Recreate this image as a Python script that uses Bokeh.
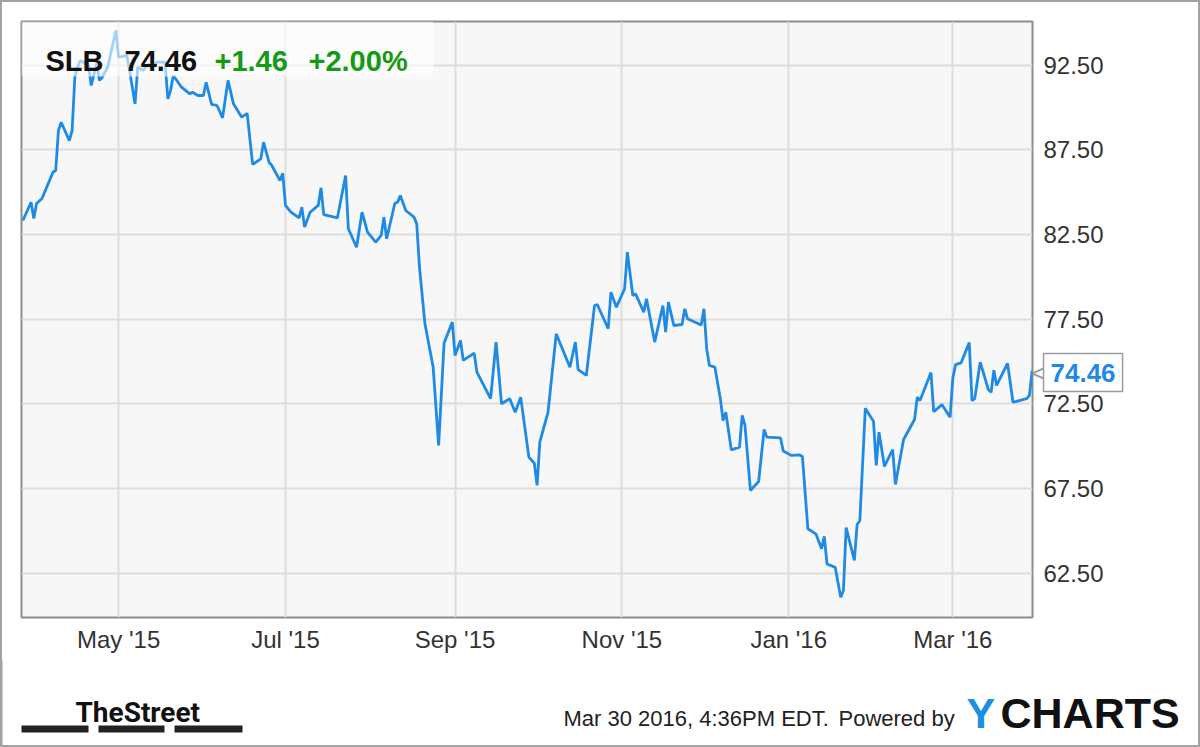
import pandas as pd
from bokeh.plotting import figure
from bokeh.layouts import column
from bokeh.models import (Range1d, FixedTicker, PrintfTickFormatter, DatetimeTickFormatter,
                          Label, BoxAnnotation)
from bokeh.embed import file_html
from bokeh.resources import INLINE

# ---------------- data ----------------
dates = [
    "2015-03-27", "2015-03-30", "2015-03-31", "2015-04-01", "2015-04-03", "2015-04-07", "2015-04-08",
    "2015-04-09", "2015-04-10", "2015-04-13", "2015-04-14", "2015-04-15", "2015-04-16", "2015-04-17",
    "2015-04-20", "2015-04-21", "2015-04-23", "2015-04-24", "2015-04-25", "2015-04-27", "2015-04-30",
    "2015-05-01", "2015-05-04", "2015-05-05", "2015-05-07", "2015-05-08", "2015-05-10", "2015-05-12",
    "2015-05-13", "2015-05-15", "2015-05-18", "2015-05-19", "2015-05-20", "2015-05-21", "2015-05-24",
    "2015-05-27", "2015-05-28", "2015-05-30", "2015-06-01", "2015-06-02", "2015-06-04", "2015-06-06",
    "2015-06-08", "2015-06-10", "2015-06-12", "2015-06-15", "2015-06-17", "2015-06-19", "2015-06-22",
    "2015-06-23", "2015-06-25", "2015-06-26", "2015-06-29", "2015-06-30", "2015-07-01", "2015-07-03",
    "2015-07-06", "2015-07-07", "2015-07-08", "2015-07-10", "2015-07-13", "2015-07-14", "2015-07-15",
    "2015-07-20", "2015-07-23", "2015-07-24", "2015-07-27", "2015-07-29", "2015-07-31", "2015-08-03",
    "2015-08-05", "2015-08-06", "2015-08-07", "2015-08-10", "2015-08-11", "2015-08-12", "2015-08-14",
    "2015-08-17", "2015-08-18", "2015-08-19", "2015-08-21", "2015-08-24", "2015-08-26", "2015-08-28",
    "2015-08-31", "2015-09-01", "2015-09-03", "2015-09-04", "2015-09-08", "2015-09-09", "2015-09-14",
    "2015-09-16", "2015-09-18", "2015-09-21", "2015-09-23", "2015-09-25", "2015-09-28", "2015-09-30",
    "2015-10-01", "2015-10-02", "2015-10-05", "2015-10-08", "2015-10-13", "2015-10-15", "2015-10-16",
    "2015-10-19", "2015-10-20", "2015-10-22", "2015-10-23", "2015-10-27", "2015-10-28", "2015-10-30",
    "2015-11-02", "2015-11-03", "2015-11-05", "2015-11-06", "2015-11-09", "2015-11-10", "2015-11-13",
    "2015-11-16", "2015-11-17", "2015-11-18", "2015-11-20", "2015-11-23", "2015-11-24", "2015-11-25",
    "2015-11-30", "2015-12-01", "2015-12-02", "2015-12-03", "2015-12-05", "2015-12-07", "2015-12-08",
    "2015-12-09", "2015-12-11", "2015-12-14", "2015-12-15", "2015-12-16", "2015-12-18", "2015-12-21",
    "2015-12-23", "2015-12-24", "2015-12-29", "2015-12-30", "2016-01-02", "2016-01-05", "2016-01-06",
    "2016-01-08", "2016-01-11", "2016-01-13", "2016-01-14", "2016-01-15", "2016-01-18", "2016-01-20",
    "2016-01-21", "2016-01-22", "2016-01-25", "2016-01-26", "2016-01-27", "2016-01-29", "2016-02-01",
    "2016-02-02", "2016-02-03", "2016-02-05", "2016-02-08", "2016-02-09", "2016-02-12", "2016-02-16",
    "2016-02-17", "2016-02-18", "2016-02-22", "2016-02-23", "2016-02-26", "2016-02-29", "2016-03-01",
    "2016-03-02", "2016-03-04", "2016-03-07", "2016-03-08", "2016-03-09", "2016-03-11", "2016-03-14",
    "2016-03-15", "2016-03-16", "2016-03-17", "2016-03-21", "2016-03-23", "2016-03-28", "2016-03-29",
    "2016-03-30",
]
prices = [
    83.32, 84.40, 83.44, 84.32, 84.62, 86.17, 86.27,
    88.63, 89.12, 88.04, 88.63, 91.78, 92.37, 92.77,
    92.47, 91.29, 92.59, 91.59, 91.78, 92.37, 94.54,
    92.96, 93.06, 92.18, 90.21, 92.37, 92.18, 92.57,
    92.28, 92.67, 92.67, 90.50, 90.99, 91.88, 91.19,
    90.80, 90.89, 90.70, 90.70, 91.48, 90.18, 90.11,
    89.38, 91.59, 90.21, 89.42, 89.65, 86.63, 86.96,
    87.94, 86.76, 86.57, 85.68, 86.11, 84.21, 83.81,
    83.48, 84.11, 82.93, 83.81, 84.21, 85.25, 83.67,
    83.48, 85.98, 82.83, 81.74, 83.81, 82.63, 82.04,
    82.44, 83.52, 82.24, 84.34, 84.40, 84.80, 83.91,
    83.52, 83.13, 80.56, 77.22, 74.66, 70.04, 76.09,
    77.32, 75.35, 76.24, 75.06, 75.49, 74.37, 72.80,
    76.14, 72.50, 72.80, 72.00, 72.89, 69.35, 68.99,
    67.68, 70.23, 72.00, 76.63, 74.66, 76.14, 74.51,
    74.17, 75.55, 78.30, 78.36, 76.93, 79.09, 78.20,
    79.29, 81.45, 78.89, 78.99, 77.91, 78.70, 76.14,
    78.30, 76.73, 78.50, 77.12, 77.18, 78.11, 77.52,
    77.15, 78.11, 75.75, 74.76, 74.66, 72.80, 71.51,
    72.00, 69.78, 69.94, 71.81, 71.22, 67.38, 67.91,
    70.98, 70.53, 70.48, 69.71, 69.45, 69.48, 69.39,
    65.12, 64.80, 63.94, 64.67, 63.04, 62.84, 61.08,
    61.48, 65.19, 63.25, 65.37, 65.59, 72.23, 71.46,
    68.86, 70.82, 68.80, 69.80, 67.74, 70.39, 71.57,
    72.89, 72.69, 74.34, 72.03, 72.45, 71.71, 74.02,
    74.81, 74.91, 76.11, 72.69, 72.80, 74.96, 73.33,
    73.18, 74.48, 73.58, 74.88, 72.59, 72.80, 73.00,
    74.46,
]
y_ticks = [62.5, 67.5, 72.5, 77.5, 82.5, 87.5, 92.5]
x_tick_dates = ["2015-05-01", "2015-07-01", "2015-09-01", "2015-11-01", "2016-01-01", "2016-03-01"]
x_tick_labels = ["May '15", "Jul '15", "Sep '15", "Nov '15", "Jan '16", "Mar '16"]
symbol = "SLB"
last_price = 74.46
change = 1.46
change_pct = 2.00
stamp_text = "Mar 30 2016, 4:36PM EDT."
powered_text = "Powered by"

# ---------------- main chart ----------------
FONT = "Liberation Sans, Arial, sans-serif"
LINE_BLUE = "#1f8ae6"
EDGE = "#a3a3a3"

dt = pd.to_datetime(dates)
x_ticks_ms = [pd.Timestamp(d).value // 10**6 for d in x_tick_dates]

p = figure(width=1200, height=660, x_axis_type="datetime", y_axis_location="right",
           x_range=Range1d(pd.Timestamp("2015-03-26 12:00"), pd.Timestamp("2016-03-30 03:00")),
           y_range=Range1d(59.88, 95.07),
           output_backend="svg", toolbar_location=None,
           min_border_left=21, min_border_top=21, min_border_right=168, min_border_bottom=43)

p.background_fill_color = "#f7f7f7"
p.border_fill_color = "white"
p.outline_line_color = "#8c8c8c"
p.outline_line_width = 2

p.xaxis.ticker = FixedTicker(ticks=x_ticks_ms)
p.xaxis.formatter = DatetimeTickFormatter(days="%b '%y", months="%b '%y", years="%b '%y")
p.xaxis.major_label_overrides = {float(t): lab for t, lab in zip(x_ticks_ms, x_tick_labels)}
p.yaxis.ticker = FixedTicker(ticks=y_ticks)
p.yaxis.formatter = PrintfTickFormatter(format="%.2f")

for ax in (p.xaxis[0], p.yaxis[0]):
    ax.axis_line_color = None
    ax.major_tick_line_color = None
    ax.minor_tick_line_color = None
    ax.major_tick_in = 0
    ax.major_tick_out = 0
    ax.major_label_text_font = FONT
    ax.major_label_text_font_size = "24px"
    ax.major_label_text_color = "#333333"
p.yaxis.major_label_standoff = 11
p.xaxis.major_label_standoff = 8

p.grid.grid_line_color = "#dddddd"
p.grid.grid_line_width = 2

p.line(dt, prices, line_color=LINE_BLUE, line_width=2.8)

# header panel (semi-transparent white over the plot)
p.add_layout(BoxAnnotation(left=0, right=412, bottom=541, top=596,
                           left_units="screen", right_units="screen",
                           bottom_units="screen", top_units="screen",
                           fill_color="white", fill_alpha=0.6, line_color=None))


def mk(x, y, text, size, color, style="normal", baseline="alphabetic", font=FONT, align="left", **kw):
    return Label(x=x, y=y, x_units="screen", y_units="screen", text=text,
                 text_font=font, text_font_size=size, text_color=color,
                 text_font_style=style, text_baseline=baseline, text_align=align, **kw)


p.add_layout(mk(24, 557, symbol, "29px", "#111111", "bold"))
p.add_layout(mk(103, 557, f"{last_price:.2f}", "29px", "#111111", "bold"))
p.add_layout(mk(193, 557, f"+{change:.2f}", "29px", "#159a15", "bold"))
p.add_layout(mk(287, 557, f"+{change_pct:.2f}%", "29px", "#159a15", "bold"))

# last-price callout, placed in the right side panel (beyond the y axis)
p.add_layout(mk(-63, 245, f"{last_price:.2f}", "26px", LINE_BLUE, "bold", "middle",
                background_fill_color="white", border_line_color="#9a9a9a",
                border_line_width=1.5, padding=(7, 10)), "right")
# its small pointer, drawn from the (narrow) left side panel
p.add_layout(mk(1025, 245, "<", "25px", "#9a9a9a", "normal", "middle"), "left")

try:
    p.frame_align = False
except AttributeError:
    pass

# ---------------- footer ----------------
f = figure(width=1200, height=87, x_range=Range1d(0, 1200), y_range=Range1d(0, 87),
           x_axis_location=None, y_axis_location=None,
           output_backend="svg", toolbar_location=None, min_border=0)
f.background_fill_color = "white"
f.border_fill_color = "white"
f.outline_line_color = None
f.grid.visible = False
try:
    f.frame_align = False
except AttributeError:
    pass

f.add_layout(mk(75, 35, "TheStreet", "28px", "#111111", "bold", "alphabetic",
                "Roboto, Liberation Sans, sans-serif"))
for l, r in [(21, 88), (98, 164), (174, 242)]:
    f.add_layout(BoxAnnotation(left=l, right=r, bottom=15, top=22,
                               left_units="screen", right_units="screen",
                               bottom_units="screen", top_units="screen",
                               fill_color="#222222", fill_alpha=1.0, line_color=None))
f.add_layout(mk(563, 29, stamp_text, "22px", "#222222", "normal", "middle"))
f.add_layout(mk(838, 29, powered_text, "22px", "#222222", "normal", "middle"))
f.add_layout(mk(966, 35, "Y", "43px", "#1a8fe3", "bold", "middle"))
f.add_layout(mk(1000, 35, "CHARTS", "43px", "#111111", "bold", "middle"))

# outer frame edges of the footer part
for l, r, b, t in [(0, 2, 0, 87), (1198, 1200, 0, 87), (0, 1200, 0, 2)]:
    f.add_layout(BoxAnnotation(left=l, right=r, bottom=b, top=t,
                               left_units="screen", right_units="screen",
                               bottom_units="screen", top_units="screen",
                               fill_color=EDGE, fill_alpha=1.0, line_color=None))

layout = column(p, f, spacing=0,
                styles={"outline": f"2px solid {EDGE}", "outline-offset": "-2px"},
                stylesheets=[":host { position: relative; }"
                             ":host::after { content: ''; position: absolute; left: 0; top: 0;"
                             " right: 0; bottom: 0; box-sizing: border-box;"
                             f" border: 2px solid {EDGE}; pointer-events: none; z-index: 50; }}"])
open("out.html", "w").write(file_html(layout, INLINE))
